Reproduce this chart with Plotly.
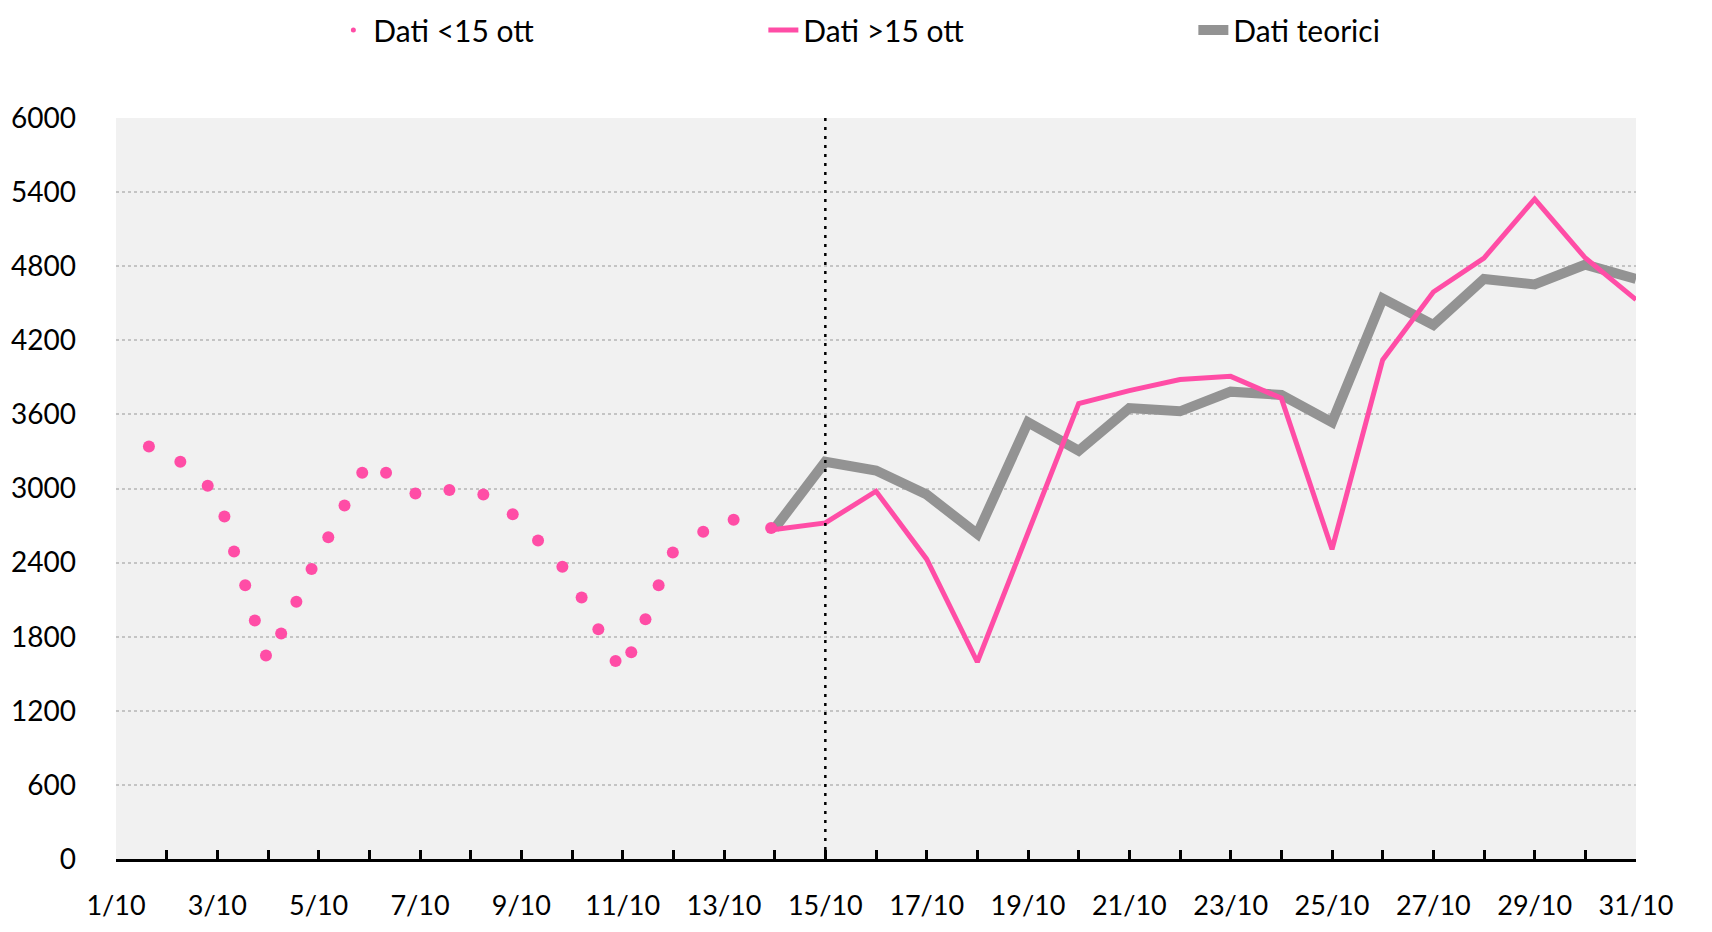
import plotly.graph_objects as go

# Early observations (before 15 Oct), fractional day of October
early_days = [1.65, 2.27, 2.81, 3.14, 3.33, 3.55, 3.74, 3.96, 4.26, 4.56, 4.86,
              5.19, 5.51, 5.86, 6.33, 6.91, 7.58, 8.25, 8.83, 9.33, 9.81, 10.19,
              10.52, 10.86, 11.17, 11.45, 11.71, 11.99, 12.59, 13.19, 13.93]
early_vals = [3341, 3217, 3022, 2774, 2490, 2216, 1932, 1648, 1826, 2083, 2349,
              2606, 2863, 3128, 3128, 2960, 2987, 2951, 2792, 2579, 2366, 2118,
              1861, 1604, 1675, 1941, 2216, 2481, 2650, 2747, 2680]

late_days = list(range(14, 32))
late_vals = [2668, 2721, 2978, 2428, 1595, 2650, 3687, 3793, 3882, 3908, 3731,
             2508, 4041, 4591, 4866, 5344, 4866, 4529]

theory_days = list(range(14, 32))
theory_vals = [2677, 3217, 3146, 2951, 2632, 3536, 3306, 3651, 3625, 3784, 3758,
               3536, 4538, 4325, 4697, 4653, 4813, 4697]

tick_days = list(range(1, 32))
tick_text = [f"{d}/10" if d % 2 == 1 else "" for d in tick_days]
y_ticks = list(range(0, 6001, 600))

PINK = "#FF4DA6"
GRAY = "#939393"
FONT = "Lato"

fig = go.Figure()

fig.add_trace(go.Scatter(x=theory_days, y=theory_vals, mode="lines",
                         name="Dati teorici", legendrank=3,
                         line=dict(color=GRAY, width=10)))
fig.add_trace(go.Scatter(x=late_days, y=late_vals, mode="lines",
                         name="Dati >15 ott", legendrank=2,
                         line=dict(color=PINK, width=5)))
fig.add_trace(go.Scatter(x=early_days, y=early_vals, mode="markers",
                         name="Dati <15 ott", showlegend=False,
                         marker=dict(color=PINK, size=12)))
fig.add_trace(go.Scatter(x=[None], y=[None], mode="markers",
                         name="Dati <15 ott", legendrank=1,
                         marker=dict(color=PINK, size=5)))

fig.add_shape(type="line", xref="x", yref="paper", x0=15, x1=15, y0=0, y1=1,
              line=dict(color="black", width=2.5, dash="3px,6px"))

fig.update_layout(
    width=1696, height=916,
    paper_bgcolor="white", plot_bgcolor="#F1F1F1",
    margin=dict(l=108, r=68, t=110, b=65, autoexpand=False),
    font=dict(family=FONT, size=27, color="black"),
    legend=dict(orientation="h", x=0.1430, xanchor="left",
                y=1 + 114 / 741, yanchor="top",
                entrywidth=385, entrywidthmode="pixels",
                font=dict(size=30), itemwidth=30,
                bgcolor="rgba(0,0,0,0)"),
    showlegend=True,
)

fig.update_xaxes(range=[1, 31], tickmode="array", tickvals=tick_days,
                 ticktext=tick_text, showgrid=False, zeroline=False,
                 showline=True, linecolor="black", linewidth=3,
                 ticks="inside", ticklen=9, tickwidth=2.5, tickcolor="black",
                 ticklabelstandoff=21, tickfont=dict(size=27), automargin=False)
fig.update_yaxes(range=[0, 6000], tickmode="array", tickvals=y_ticks,
                 showgrid=True, gridcolor="#C4C4C4", gridwidth=1.5,
                 griddash="dot", zeroline=False, showline=False,
                 ticks="", ticklabelstandoff=39, tickfont=dict(size=28),
                 automargin=False)

fig.write_html("out.html")
